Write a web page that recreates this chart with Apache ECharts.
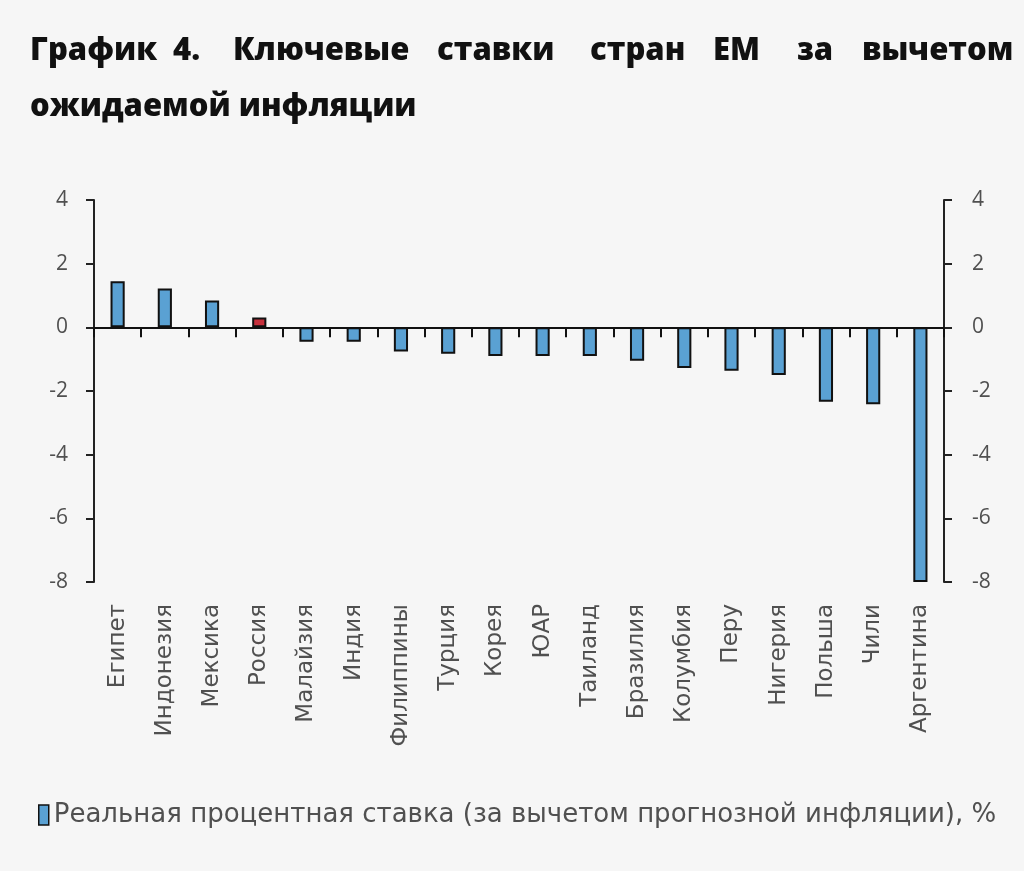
<!DOCTYPE html>
<html><head><meta charset="utf-8">
<script src="https://cdn.jsdelivr.net/npm/echarts@6/dist/echarts.min.js"></script>
<style>html,body{margin:0;padding:0;background:#f6f6f6;}#c{width:1024px;height:871px;}</style>
</head><body><div id="c"></div>
<script>
const categories = ['Египет','Индонезия','Мексика','Россия','Малайзия','Индия','Филиппины','Турция','Корея','ЮАР','Таиланд','Бразилия','Колумбия','Перу','Нигерия','Польша','Чили','Аргентина'];
const values = [1.45, 1.22, 0.84, 0.31, -0.45, -0.45, -0.76, -0.83, -0.9, -0.9, -0.9, -1.05, -1.28, -1.36, -1.5, -2.34, -2.42, -8];
const highlight = 'Россия';
const yTicks = {min: -8, max: 4, interval: 2};
const titleLine1 = ['График','4.','Ключевые','ставки','стран','EM','за','вычетом'];
const titleLine1X = [30,173,233,437,590,713,797,862];
const titleLine2 = 'ожидаемой инфляции';
const seriesName = 'Реальная процентная ставка (за вычетом прогнозной инфляции), %';

const blue = '#5aa1d3', red = '#c7313d';
const chart = echarts.init(document.getElementById('c'), null, {renderer:'canvas'});
const titleFont = {fontFamily:'Open Sans', fontWeight:800, fontSize:31, fill:'#111'};
const graphics = titleLine1.map((w,i)=>({type:'text', left:titleLine1X[i], top:36, style:Object.assign({text:w}, titleFont)}));
graphics.push({type:'text', left:30, top:92, style:Object.assign({text:titleLine2}, titleFont)});

const labelFont = {fontFamily:'DejaVu Sans', fontSize:23, color:'#505050'};
const yLabel = {fontFamily:'Open Sans', fontSize:21, color:'#505050'};
chart.setOption({
  backgroundColor:'#f6f6f6',
  animation:false,
  graphic: graphics,
  grid:{left:94, right:80, top:200, bottom:289, containLabel:false},
  legend:{show:true, left:33, top:797, itemWidth:10, itemHeight:20, itemGap:6,
    textStyle:{fontFamily:'DejaVu Sans', fontSize:26, color:'#505050'},
    data:[{name:seriesName, icon:'rect', itemStyle:{color:blue, borderColor:'#111', borderWidth:1.5}}]},
  xAxis:[
    {type:'category', data:categories, position:'bottom',
     axisLine:{onZero:true, lineStyle:{color:'#111', width:2}},
     axisTick:{show:true, interval:0, length:10, lineStyle:{color:'#111', width:2}},
     axisLabel:{show:false}, splitLine:{show:false}},
    {type:'category', data:categories, position:'bottom', offset:0,
     axisLine:{show:false, onZero:false}, axisTick:{show:false},
     axisLabel:Object.assign({rotate:90, margin:22, interval:0}, labelFont), splitLine:{show:false}}
  ],
  yAxis:[
    {type:'value', position:'left', min:yTicks.min, max:yTicks.max, interval:yTicks.interval,
     axisLine:{show:true, lineStyle:{color:'#222', width:2}},
     axisTick:{show:true, length:8, lineStyle:{color:'#222', width:2}},
     axisLabel:Object.assign({margin:26}, yLabel), splitLine:{show:false}},
    {type:'value', position:'right', min:yTicks.min, max:yTicks.max, interval:yTicks.interval,
     axisLine:{show:true, lineStyle:{color:'#222', width:2}},
     axisTick:{show:true, length:8, lineStyle:{color:'#222', width:2}},
     axisLabel:Object.assign({margin:28}, yLabel), splitLine:{show:false}}
  ],
  series:[{
    name:seriesName, type:'bar', xAxisIndex:0, yAxisIndex:0, barWidth:'30%',
    data: values.map((v,i)=>({value:v, itemStyle:{color: categories[i]===highlight ? red : blue}})),
    itemStyle:{color:blue, borderColor:'#111', borderWidth:2},
    clip:true
  }]
});
</script></body></html>
